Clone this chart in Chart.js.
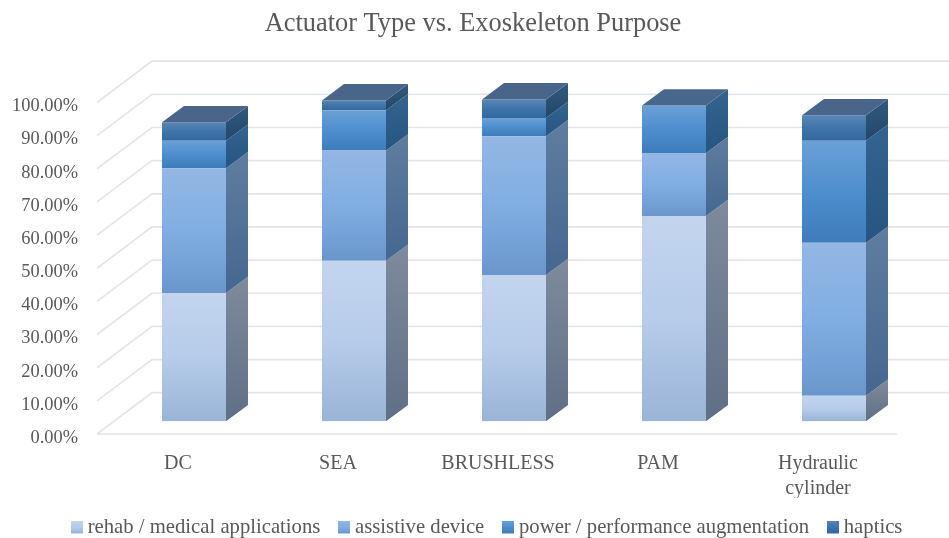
<!DOCTYPE html>
<html>
<head>
<meta charset="utf-8">
<style>html,body{margin:0;padding:0;background:#fff}canvas{display:block}</style>
<script src="https://cdn.jsdelivr.net/npm/chart.js@4"></script>
</head>
<body>
<canvas id="c" width="949" height="538"></canvas>
<script>
const categories = ["DC", "SEA", "BRUSHLESS", "PAM", ["Hydraulic", "cylinder"]];
const seriesNames = ["rehab / medical applications", "assistive device", "power / performance augmentation", "haptics"];
const rehab = [38.7, 48.4, 44.1, 61.9, 7.69];
const assistive = [37.6, 33.3, 41.9, 19.05, 46.15];
const power = [8.3, 12.1, 5.5, 14.29, 30.77];
const haptics = [5.6, 3.0, 5.6, 0, 7.69];
const allSeries = [rehab, assistive, power, haptics];
const tickValues = [0, 10, 20, 30, 40, 50, 60, 70, 80, 90, 100];

const FONT = "'Liberation Serif', serif";
const TEXT = "#595959";
const GRID = "#E2E5ED";
const frontStops = [
  ["#C3D5EE", "#B6CCEA", "#9AB4D7"],
  ["#94B7E4", "#80AEE3", "#6A96CC"],
  ["#6BA0D7", "#4D8ECE", "#3E7CBA"],
  ["#5A87B6", "#3F74AA", "#33689E"]
];
const sideStops = [
  ["#7F8B9C", "#5F6F85"],
  ["#5F7D9F", "#456790"],
  ["#33648F", "#27557F"],
  ["#33597F", "#214769"]
];
const capColor = ["#6E7F99", "#54749A", "#47688C", "#49668A"];
const DEPTH_X = 22, DEPTH_Y = 16.3;          // bar depth
const WALL_FX = 17, WALL_FY = 12.7;          // bars -> front of floor
const WALL_BX = 38, WALL_BY = 28.6;          // bars -> back wall

function vGrad(ctx, y0, y1, stops) {
  const g = ctx.createLinearGradient(0, y0, 0, y1);
  stops.forEach((c, i) => g.addColorStop(i / (stops.length - 1), c));
  return g;
}
function frontFill(c) {
  if (c.dataIndex === undefined) return frontStops[c.datasetIndex][1];
  const y = c.chart.scales.y;
  let start = 0;
  for (let d = 0; d < c.datasetIndex; d++) start += allSeries[d][c.dataIndex];
  const end = start + allSeries[c.datasetIndex][c.dataIndex];
  return vGrad(c.chart.ctx, y.getPixelForValue(end), y.getPixelForValue(start), frontStops[c.datasetIndex]);
}
function legendSwatch(stops) {
  const k = document.createElement("canvas");
  k.width = 12; k.height = 15;
  const x = k.getContext("2d");
  x.fillStyle = vGrad(x, 0, 13, stops);
  x.fillRect(0, 0, 12, 13);
  return k;
}

const wallPlugin = {
  id: "wall",
  afterLayout(chart) {
    chart.titleBlock.left -= 1.5;
    chart.titleBlock.right -= 1.5;
    chart.legend.left += 53;
    chart.legend.top -= 3.65;
  },
  beforeDatasetsDraw(chart) {
    const { ctx, chartArea: a, scales: { y } } = chart;
    ctx.save();
    ctx.strokeStyle = GRID;
    ctx.lineWidth = 1.7;
    y.ticks.forEach(t => {
      const p = y.getPixelForValue(t.value);
      ctx.beginPath();
      ctx.moveTo(a.left - WALL_FX, p + WALL_FY);
      ctx.lineTo(a.left + WALL_BX, p - WALL_BY);
      ctx.lineTo(949, p - WALL_BY);
      ctx.stroke();
    });
    const p0 = y.getPixelForValue(0) + WALL_FY;
    ctx.beginPath();
    ctx.moveTo(a.left - WALL_FX, p0);
    ctx.lineTo(a.right - WALL_FX, p0);
    ctx.stroke();
    ctx.restore();
  },
  afterDatasetsDraw(chart) {
    const { ctx } = chart;
    ctx.save();
    categories.forEach((_, i) => {
      let topIdx = -1, top = null;
      allSeries.forEach((s, d) => {
        if (!s[i]) return;
        const el = chart.getDatasetMeta(d).data[i];
        const xr = el.x + el.width / 2;
        ctx.fillStyle = vGrad(ctx, el.y - DEPTH_Y, el.base, sideStops[d]);
        ctx.beginPath();
        ctx.moveTo(xr, el.y);
        ctx.lineTo(xr + DEPTH_X, el.y - DEPTH_Y);
        ctx.lineTo(xr + DEPTH_X, el.base - DEPTH_Y);
        ctx.lineTo(xr, el.base);
        ctx.closePath();
        ctx.fill();
        topIdx = d; top = el;
      });
      if (top) {
        const xl = top.x - top.width / 2, xr = top.x + top.width / 2;
        ctx.fillStyle = capColor[topIdx];
        ctx.beginPath();
        ctx.moveTo(xl, top.y);
        ctx.lineTo(xl + DEPTH_X, top.y - DEPTH_Y);
        ctx.lineTo(xr + DEPTH_X, top.y - DEPTH_Y);
        ctx.lineTo(xr, top.y);
        ctx.closePath();
        ctx.fill();
      }
    });
    ctx.restore();
  }
};

new Chart(document.getElementById("c"), {
  type: "bar",
  data: {
    labels: categories,
    datasets: allSeries.map((s, d) => ({
      label: seriesNames[d],
      data: s,
      yAxisID: "y",
      backgroundColor: frontFill,
      borderWidth: 0,
      barPercentage: 1,
      categoryPercentage: 0.4
    }))
  },
  plugins: [wallPlugin],
  options: {
    responsive: false,
    animation: false,
    layout: { autoPadding: false, padding: { left: 0, right: 0, top: 0, bottom: -14 } },
    plugins: {
      tooltip: { enabled: false },
      title: {
        display: true,
        text: "Actuator Type vs. Exoskeleton Purpose",
        color: TEXT,
        font: { family: FONT, size: 26.4, weight: "normal", lineHeight: 1.2 },
        padding: { top: 8.1, bottom: 50 }
      },
      legend: {
        position: "bottom",
        align: "start",
        labels: {
          color: TEXT,
          font: { family: FONT, size: 20.7 },
          usePointStyle: true,
          pointStyleWidth: 0.7,
          padding: 23.65,
          generateLabels: () => seriesNames.map((n, d) => ({
            text: n, datasetIndex: d, fontColor: TEXT, lineWidth: 0,
            pointStyle: legendSwatch(frontStops[d])
          }))
        }
      }
    },
    scales: {
      x: {
        stacked: true,
        grid: { display: false },
        border: { display: false },
        afterFit(s) { s.height = 76.35; },
        ticks: {
          color: TEXT,
          font: { family: FONT, size: 20, lineHeight: 1.25 },
          labelOffset: -16,
          padding: 22,
          maxRotation: 0,
          autoSkip: false
        }
      },
      y: {
        stacked: true,
        min: 0,
        max: 100,
        grid: { display: false, drawTicks: false },
        border: { display: false },
        afterFit(s) { s.width = 114; },
        afterBuildTicks(s) { s.ticks = tickValues.map(v => ({ value: v })); },
        ticks: {
          color: TEXT,
          font: { family: FONT, size: 18.4 },
          labelOffset: 16.7,
          padding: 36,
          callback: v => v.toFixed(2) + "%"
        }
      },
      rightGutter: {
        axis: "y",
        position: "right",
        min: 0,
        max: 100,
        grid: { display: false, drawTicks: false },
        border: { display: false },
        ticks: { display: false },
        afterFit(s) { s.width = 35; }
      }
    }
  }
});
</script>
</body>
</html>
